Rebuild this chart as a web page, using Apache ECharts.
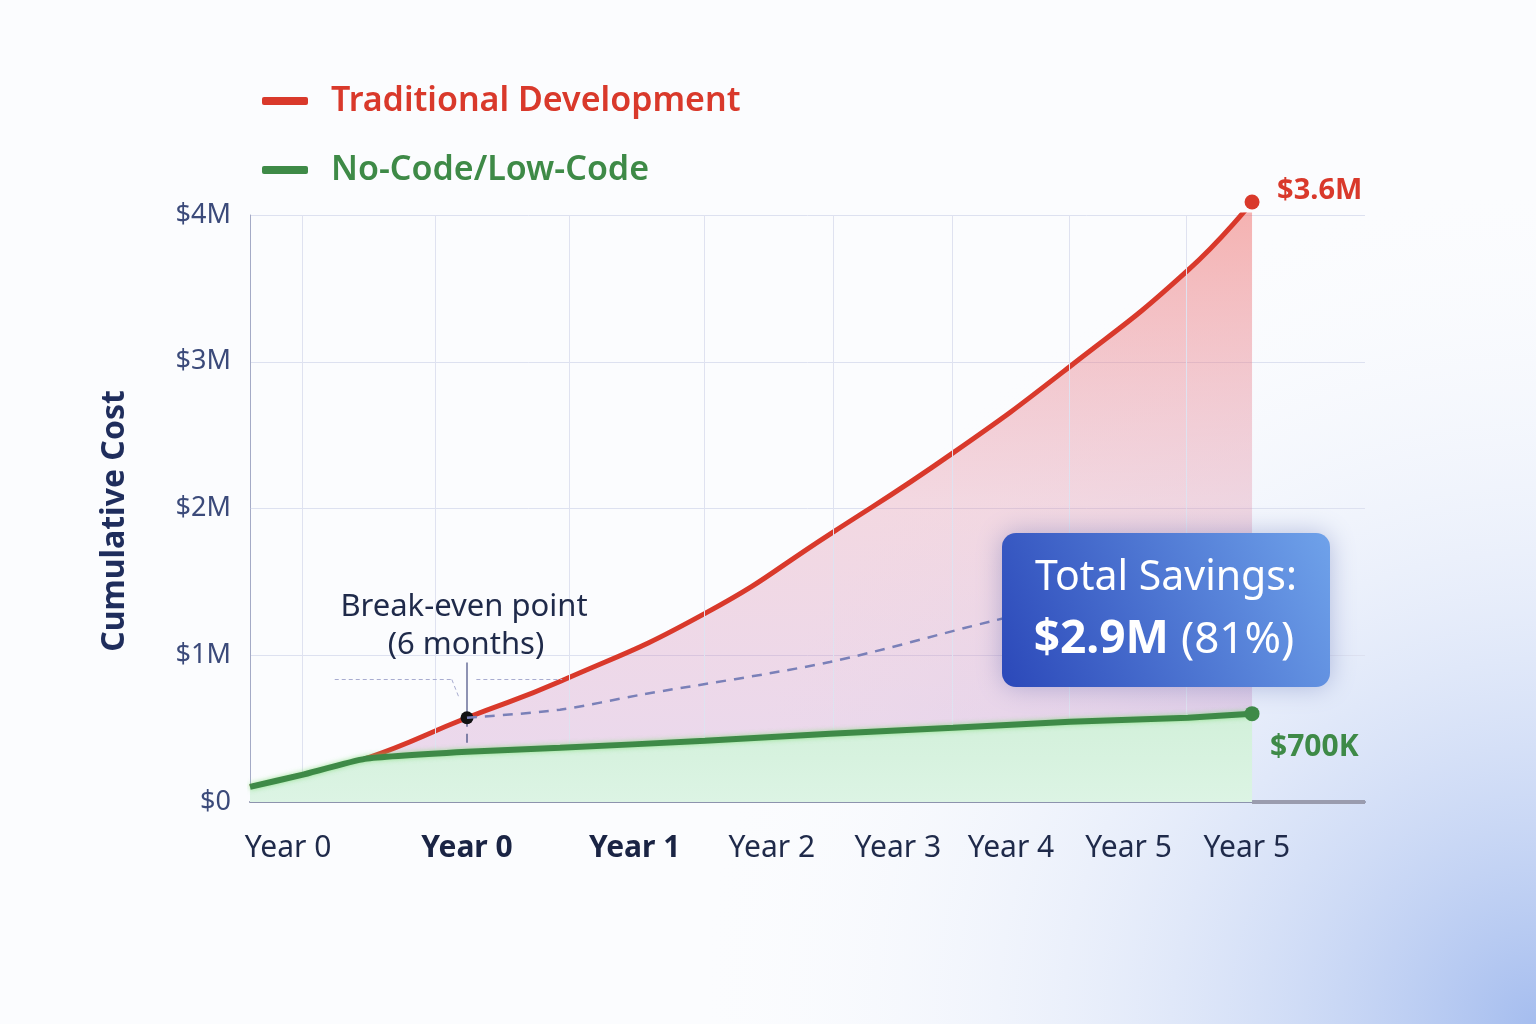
<!DOCTYPE html>
<html>
<head>
<meta charset="utf-8">
<script src="https://cdn.jsdelivr.net/npm/echarts@6/dist/echarts.min.js"></script>
<style>
  html, body { margin: 0; padding: 0; background: #fbfcfe; }
  #chart { width: 1536px; height: 1024px; }
</style>
</head>
<body>
<div id="chart"></div>
<script>
// x runs on a 0..100 position scale across the plot
var xPos = [0, 4.66, 10.31, 19.46, 27.8, 40.81, 52.02, 63.05, 73.54, 84.13, 89.87];
// cumulative cost in $M
var traditional = [0.103, 0.185, 0.294, 0.574, 0.821, 1.285, 1.826, 2.379, 2.968, 3.624, 4.089];
var noCode = [0.103, 0.185, 0.294, 0.342, 0.369, 0.417, 0.465, 0.506, 0.547, 0.574, 0.602];

var projX = [19.46, 27.8, 35.0, 52.0, 66.4, 76.2, 83.4, 89.7];
var projY = [0.574, 0.629, 0.73, 0.954, 1.23, 1.40, 1.53, 1.66];

var breakEven = [19.46, 0.574];

var gridX = [4.66, 16.6, 28.6, 40.7, 52.3, 63.0, 73.5, 84.0];
var labelX = [3.41, 19.46, 34.5, 46.8, 58.1, 68.25, 78.8, 89.4];
var labelText = ['Year 0', 'Year 0', 'Year 1', 'Year 2', 'Year 3', 'Year 4', 'Year 5', 'Year 5'];
var labelBold = [false, true, true, false, false, false, false, false];
var yTicks = ['$0', '$1M', '$2M', '$3M', '$4M'];

var RED = '#d9392b';
var GREEN = '#3e8a47';
var FONT = 'Noto Sans';

function zip(xs, ys) {
  return xs.map(function (x, i) { return [x, ys[i]]; });
}

var chart = echarts.init(document.getElementById('chart'));

var option = {
  backgroundColor: '#fbfcfe',
  textStyle: { fontFamily: FONT },
  graphic: [
    {
      type: 'rect', z: -10, silent: true,
      shape: { x: 0, y: 0, width: 1536, height: 1024 },
      style: {
        fill: new echarts.graphic.RadialGradient(1, 1, 0.85, [
          { offset: 0, color: 'rgba(150,178,236,0.85)' },
          { offset: 0.5, color: 'rgba(208,220,246,0.45)' },
          { offset: 1, color: 'rgba(255,255,255,0)' }
        ])
      }
    },
    {
      // y axis title
      type: 'text', x: 115, y: 521, rotation: Math.PI / 2, z: 100,
      style: {
        text: 'Cumulative Cost', fill: '#1f2d5c', font: 'bold 32px "Noto Sans"',
        align: 'center', verticalAlign: 'middle'
      }
    },
    {
      type: 'text', x: 464, y: 607, z: 100,
      style: {
        text: 'Break-even point', fill: '#1f2a4a', font: '31px "Noto Sans"',
        align: 'center', verticalAlign: 'middle'
      }
    },
    {
      type: 'text', x: 466, y: 645, z: 100,
      style: {
        text: '(6 months)', fill: '#1f2a4a', font: '31px "Noto Sans"',
        align: 'center', verticalAlign: 'middle'
      }
    },
    {
      type: 'rect', z: 100,
      shape: { x: 1002, y: 533, width: 328, height: 154, r: 14 },
      style: {
        fill: new echarts.graphic.LinearGradient(0, 1, 1, 0, [
          { offset: 0, color: '#2b48b9' },
          { offset: 1, color: '#6fa2ea' }
        ]),
        shadowBlur: 26,
        shadowColor: 'rgba(40,60,150,0.3)'
      }
    },
    {
      type: 'text', x: 1166, y: 578, z: 101,
      style: {
        text: 'Total Savings:', fill: '#ffffff',
        font: '41px "Noto Sans"', align: 'center', verticalAlign: 'middle'
      }
    },
    {
      type: 'text', x: 1164, y: 640, z: 101,
      style: {
        text: '{b|$2.9M}{s| }{c|(81%)}', align: 'center', verticalAlign: 'middle',
        rich: {
          b: { fill: '#ffffff', fontSize: 46, fontWeight: 'bold', fontFamily: FONT },
          s: { fill: '#ffffff', fontSize: 30, width: 12, fontFamily: FONT },
          c: { fill: '#ffffff', fontSize: 44, fontFamily: FONT }
        }
      }
    }
  ],
  legend: {
    orient: 'vertical',
    left: 257,
    top: 79,
    itemWidth: 46,
    itemHeight: 8,
    itemGap: 35,
    icon: 'roundRect',
    selectedMode: false,
    textStyle: { fontSize: 34, fontWeight: 600, fontFamily: FONT, padding: [0, 0, 0, 18] },
    data: [
      { name: 'Traditional Development', textStyle: { color: RED } },
      { name: 'No-Code/Low-Code', textStyle: { color: GREEN } }
    ]
  },
  grid: { left: 250, right: 171, top: 215, bottom: 222 },
  xAxis: {
    type: 'value',
    min: 0,
    max: 100,
    splitLine: { show: false },
    axisTick: { show: false },
    axisLine: { lineStyle: { color: '#8d93ad', width: 2 } },
    axisLabel: {
      customValues: labelX,
      margin: 31,
      formatter: function (v) {
        var i = labelX.indexOf(v);
        if (i < 0) return '';
        return labelBold[i] ? '{b|' + labelText[i] + '}' : '{n|' + labelText[i] + '}';
      },
      rich: {
        n: { fontSize: 30, color: '#1f2a4a', fontFamily: FONT },
        b: { fontSize: 30, color: '#1a2444', fontWeight: 'bold', fontFamily: FONT }
      }
    }
  },
  yAxis: {
    type: 'value',
    min: 0,
    max: 4,
    interval: 1,
    axisLine: { show: true, lineStyle: { color: '#a4aac6', width: 1 } },
    axisTick: { show: false },
    splitLine: { lineStyle: { color: '#dde1f0', width: 1 } },
    axisLabel: {
      margin: 19,
      fontSize: 27,
      color: '#3b4a7a',
      fontFamily: FONT,
      formatter: function (v) { return yTicks[Math.round(v)]; }
    }
  },
  series: [
    {
      name: 'grid',
      type: 'line',
      data: [[0, 0]],
      showSymbol: false,
      lineStyle: { opacity: 0 },
      silent: true,
      z: 1,
      markLine: {
        silent: true,
        symbol: 'none',
        label: { show: false },
        lineStyle: { color: '#dfe2f0', width: 1, type: 'solid' },
        data: gridX.map(function (x) { return { xAxis: x }; }).concat([
          [{ coord: [xPos[xPos.length - 1], 0], lineStyle: { color: '#9a9cae', width: 4 } }, { coord: [100, 0] }]
        ])
      }
    },
    {
      name: 'Traditional Development',
      type: 'line',
      data: zip(xPos, traditional),
      smooth: 0.5,
      clip: false,
      color: RED,
      z: 4,
      showSymbol: true,
      symbol: 'circle',
      symbolSize: function (v, p) { return p.dataIndex === xPos.length - 1 ? 15 : 0; },
      lineStyle: { color: RED, width: 5 },
      itemStyle: { color: RED },
      areaStyle: {
        origin: 'start',
        opacity: 0.85,
        color: new echarts.graphic.LinearGradient(0, 0, 0, 1, [
          { offset: 0, color: 'rgba(240,110,105,0.62)' },
          { offset: 0.5, color: 'rgba(225,135,160,0.36)' },
          { offset: 1, color: 'rgba(190,130,200,0.34)' }
        ])
      },
      endLabel: {
        show: true,
        formatter: '$3.6M',
        color: RED,
        fontSize: 29,
        fontWeight: 'bold',
        fontFamily: FONT,
        offset: [17, -11]
      },
      markPoint: {
        silent: true,
        symbol: 'circle',
        symbolSize: 13,
        itemStyle: { color: '#111111' },
        label: { show: false },
        data: [{ coord: breakEven }]
      },
      markLine: {
        silent: true,
        symbol: 'none',
        label: { show: false },
        lineStyle: { color: '#5c6290', width: 1.5, type: [9, 7] },
        data: [
          [{ coord: [breakEven[0], 0.95], lineStyle: { type: 'solid', color: '#6a709a' } }, { coord: breakEven }],
          [{ coord: breakEven }, { coord: [breakEven[0], 0] }],
          [{ coord: [7.6, 0.835], lineStyle: { color: '#a8acd0', width: 1, type: [4, 3] } }, { coord: [18.1, 0.835] }],
          [{ coord: [18.1, 0.835], lineStyle: { color: '#a8acd0', width: 1, type: [4, 3] } }, { coord: [18.7, 0.72] }],
          [{ coord: [20.3, 0.835], lineStyle: { color: '#a8acd0', width: 1, type: [4, 3] } }, { coord: [28, 0.835] }]
        ]
      }
    },
    {
      name: 'No-Code/Low-Code',
      type: 'line',
      data: zip(xPos, noCode),
      smooth: 0.15,
      color: GREEN,
      z: 5,
      showSymbol: true,
      symbol: 'circle',
      symbolSize: function (v, p) { return p.dataIndex === xPos.length - 1 ? 15 : 0; },
      lineStyle: { color: GREEN, width: 6, shadowColor: 'rgba(120,220,110,0.7)', shadowBlur: 5 },
      itemStyle: { color: GREEN },
      areaStyle: {
        origin: 'start',
        opacity: 1,
        color: new echarts.graphic.LinearGradient(0, 0, 0, 1, [
          { offset: 0, color: '#d2f0da' },
          { offset: 1, color: '#dcf4e4' }
        ])
      },
      endLabel: {
        show: true,
        formatter: '$700K',
        color: GREEN,
        fontSize: 30,
        fontWeight: 'bold',
        fontFamily: FONT,
        offset: [10, 34]
      }
    },
    {
      name: 'projection',
      type: 'line',
      data: zip(projX, projY),
      smooth: 0.3,
      showSymbol: false,
      z: 6,
      silent: true,
      lineStyle: { color: '#7a80b8', width: 2.5, type: [10, 8] }
    }
  ]
};

chart.setOption(option);
</script>
</body>
</html>
